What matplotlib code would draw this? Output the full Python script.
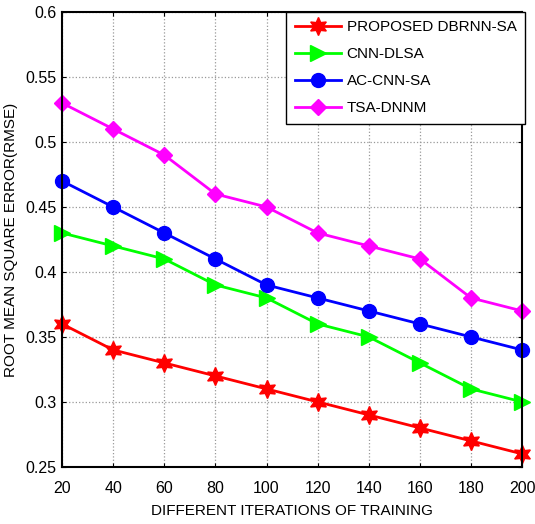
import matplotlib
matplotlib.use("Agg")
import matplotlib.pyplot as plt

plt.rcParams['font.family'] = ['Liberation Sans', 'DejaVu Sans']

iterations = [20, 40, 60, 80, 100, 120, 140, 160, 180, 200]
dbrnn_sa = [0.36, 0.34, 0.33, 0.32, 0.31, 0.30, 0.29, 0.28, 0.27, 0.26]
cnn_dlsa = [0.43, 0.42, 0.41, 0.39, 0.38, 0.36, 0.35, 0.33, 0.31, 0.30]
ac_cnn_sa = [0.47, 0.45, 0.43, 0.41, 0.39, 0.38, 0.37, 0.36, 0.35, 0.34]
tsa_dnnm = [0.53, 0.51, 0.49, 0.46, 0.45, 0.43, 0.42, 0.41, 0.38, 0.37]

fig = plt.figure(figsize=(5.35, 5.24), dpi=100)
ax = fig.add_axes([0.116, 0.109, 0.860, 0.868])

ax.plot(iterations, dbrnn_sa, color='red', lw=2, marker=(6, 1, 0), ms=13,
        label='PROPOSED DBRNN-SA', clip_on=False)
ax.plot(iterations, cnn_dlsa, color='#00ff00', lw=2, marker='>', ms=11,
        label='CNN-DLSA', clip_on=False)
ax.plot(iterations, ac_cnn_sa, color='blue', lw=2, marker='o', ms=10,
        label='AC-CNN-SA', clip_on=False)
ax.plot(iterations, tsa_dnnm, color='magenta', lw=2, marker='D', ms=8,
        label='TSA-DNNM', clip_on=False)

ax.set_xlim(20, 200)
ax.set_ylim(0.25, 0.6)
ax.set_xticks(iterations)
ax.set_yticks([0.25, 0.3, 0.35, 0.4, 0.45, 0.5, 0.55, 0.6])
ax.set_yticklabels(['0.25', '0.3', '0.35', '0.4', '0.45', '0.5', '0.55', '0.6'])
ax.tick_params(direction='in', labelsize=11.5, length=3, top=True, right=True)
ax.tick_params(axis='x', pad=10)
ax.tick_params(axis='y', pad=4)
ax.grid(True, color='#999999', linestyle=':', linewidth=0.9)
for s in ax.spines.values():
    s.set_linewidth(1.5)

ax.set_xlabel('DIFFERENT ITERATIONS OF TRAINING', fontsize=11, labelpad=6)
ax.set_ylabel('ROOT MEAN SQUARE ERROR(RMSE)', fontsize=11, labelpad=5)

leg = ax.legend(loc='upper right', bbox_to_anchor=(1.006, 1.0), fontsize=11,
                fancybox=False, framealpha=1, edgecolor='black',
                borderaxespad=0.0, handlelength=3.0, handletextpad=0.4,
                labelspacing=0.85, borderpad=0.55)
leg.get_frame().set_linewidth(1.0)

fig.savefig('out.png', dpi=100)
